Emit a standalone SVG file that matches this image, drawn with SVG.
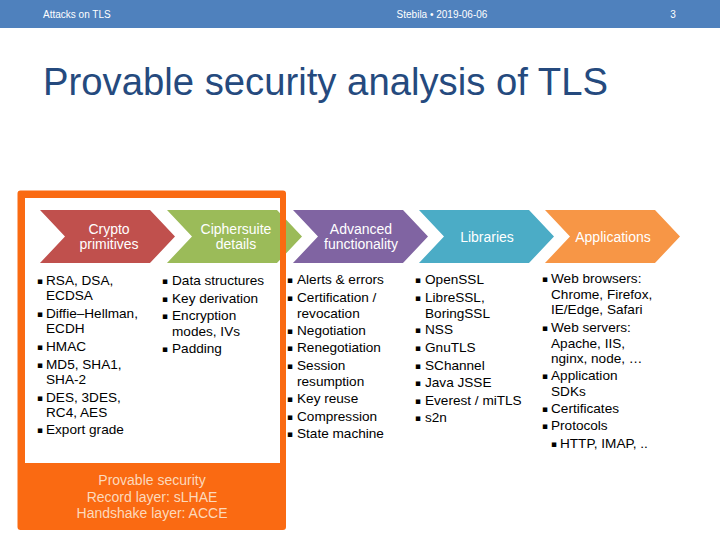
<svg xmlns="http://www.w3.org/2000/svg" width="720" height="540" viewBox="0 0 720 540">
<style>
.hdr{font-family:"Liberation Sans",Arial,sans-serif;font-size:10px;fill:#FFFFFF}
.ttl{font-family:"Liberation Sans",Arial,sans-serif;font-size:38px;fill:#254A7E}
.lab{font-family:"Liberation Sans",Arial,sans-serif;font-size:14px;fill:#FFFFFF;text-anchor:middle}
.li{font-family:"Liberation Sans",Arial,sans-serif;font-size:13.6px;fill:#000000}
.bu{font-family:"DejaVu Sans",sans-serif;font-size:9px;fill:#000000}
.bot{font-family:"Liberation Sans",Arial,sans-serif;font-size:14px;fill:#FCD9BC;text-anchor:middle}
</style>
<defs>
<path id="chev" d="M0,0 L110,0 L135,26.5 L110,53 L0,53 L25,26.5 Z"/>
</defs>
<rect x="0" y="0" width="720" height="540" fill="#FFFFFF"/>
<g id="header">
<rect x="0" y="0" width="720" height="28" fill="#4F81BD"/>
<text class="hdr" x="43" y="18">Attacks on TLS</text>
<text class="hdr" x="442" y="18" text-anchor="middle">Stebila • 2019-06-06</text>
<text class="hdr" x="673" y="18" text-anchor="middle">3</text>
</g>
<text id="title" class="ttl" x="43" y="95" textLength="565" lengthAdjust="spacingAndGlyphs">Provable security analysis of TLS</text>
<g id="connectors"></g>
<g id="crypto">
<use href="#chev" x="40" y="210" fill="#C0504D"/>
<text class="lab" x="109" y="234">Crypto</text>
<text class="lab" x="109" y="249">primitives</text>
<g>
<text class="bu" x="37" y="284">▪</text><text class="li" x="46" y="285">RSA, DSA,</text>
<text class="li" x="46" y="300">ECDSA</text>
<text class="bu" x="37" y="317">▪</text><text class="li" x="46" y="318">Diffie–Hellman,</text>
<text class="li" x="46" y="333">ECDH</text>
<text class="bu" x="37" y="350">▪</text><text class="li" x="46" y="351">HMAC</text>
<text class="bu" x="37" y="368">▪</text><text class="li" x="46" y="369">MD5, SHA1,</text>
<text class="li" x="46" y="384">SHA-2</text>
<text class="bu" x="37" y="401">▪</text><text class="li" x="46" y="402">DES, 3DES,</text>
<text class="li" x="46" y="417">RC4, AES</text>
<text class="bu" x="37" y="433">▪</text><text class="li" x="46" y="434">Export grade</text>
</g>
</g>
<g id="ciphersuite">
<use href="#chev" x="167" y="210" fill="#9BBB59"/>
<text class="lab" x="236" y="234">Ciphersuite</text>
<text class="lab" x="236" y="249">details</text>
<text class="bu" x="162" y="284">▪</text><text class="li" x="172" y="285">Data structures</text>
<text class="bu" x="162" y="302">▪</text><text class="li" x="172" y="303">Key derivation</text>
<text class="bu" x="162" y="319">▪</text><text class="li" x="172" y="320">Encryption</text>
<text class="li" x="172" y="335.5">modes, IVs</text>
<text class="bu" x="162" y="352">▪</text><text class="li" x="172" y="353">Padding</text>
</g>
<g id="advanced">
<use href="#chev" x="293" y="210" fill="#8064A2"/>
<text class="lab" x="361" y="234">Advanced</text>
<text class="lab" x="361" y="249">functionality</text>
<text class="bu" x="287" y="283">▪</text><text class="li" x="297" y="284">Alerts &amp; errors</text>
<text class="bu" x="287" y="301">▪</text><text class="li" x="297" y="302">Certification /</text>
<text class="li" x="297" y="317.5">revocation</text>
<text class="bu" x="287" y="334">▪</text><text class="li" x="297" y="335">Negotiation</text>
<text class="bu" x="287" y="351">▪</text><text class="li" x="297" y="352">Renegotiation</text>
<text class="bu" x="287" y="369">▪</text><text class="li" x="297" y="370">Session</text>
<text class="li" x="297" y="385.5">resumption</text>
<text class="bu" x="287" y="402">▪</text><text class="li" x="297" y="403">Key reuse</text>
<text class="bu" x="287" y="420">▪</text><text class="li" x="297" y="421">Compression</text>
<text class="bu" x="287" y="437">▪</text><text class="li" x="297" y="438">State machine</text>
</g>
<g id="libraries">
<use href="#chev" x="419" y="210" fill="#4BACC6"/>
<text class="lab" x="487" y="242">Libraries</text>
<text class="bu" x="415" y="283">▪</text><text class="li" x="425" y="284">OpenSSL</text>
<text class="bu" x="415" y="301">▪</text><text class="li" x="425" y="302">LibreSSL,</text>
<text class="li" x="425" y="317.5">BoringSSL</text>
<text class="bu" x="415" y="333">▪</text><text class="li" x="425" y="334">NSS</text>
<text class="bu" x="415" y="351">▪</text><text class="li" x="425" y="352">GnuTLS</text>
<text class="bu" x="415" y="369">▪</text><text class="li" x="425" y="370">SChannel</text>
<text class="bu" x="415" y="386">▪</text><text class="li" x="425" y="387">Java JSSE</text>
<text class="bu" x="415" y="404">▪</text><text class="li" x="425" y="405">Everest / miTLS</text>
<text class="bu" x="415" y="421">▪</text><text class="li" x="425" y="422">s2n</text>
</g>
<g id="applications">
<use href="#chev" x="545" y="210" fill="#F79646"/>
<text class="lab" x="613" y="242">Applications</text>
<text class="bu" x="542" y="282">▪</text><text class="li" x="551" y="283">Web browsers:</text>
<text class="li" x="551" y="298.5">Chrome, Firefox,</text>
<text class="li" x="551" y="314">IE/Edge, Safari</text>
<text class="bu" x="542" y="331">▪</text><text class="li" x="551" y="332">Web servers:</text>
<text class="li" x="551" y="347.5">Apache, IIS,</text>
<text class="li" x="551" y="363">nginx, node, …</text>
<text class="bu" x="542" y="379">▪</text><text class="li" x="551" y="380">Application</text>
<text class="li" x="551" y="395.5">SDKs</text>
<text class="bu" x="542" y="412">▪</text><text class="li" x="551" y="413">Certificates</text>
<text class="bu" x="542" y="429">▪</text><text class="li" x="551" y="430">Protocols</text>
<text class="bu" x="551" y="447">▪</text><text class="li" x="560" y="448">HTTP, IMAP, ..</text>
</g>
<g id="provable-security">
<path d="M20.5,190.5 H283 Q286,190.5 286,193.5 V527 Q286,530 283,530 H20.5 Q17.5,530 17.5,527 V193.5 Q17.5,190.5 20.5,190.5 Z M25,198 V463 H280 V198 Z" fill="#FA6A12" fill-rule="evenodd"/>
<text class="bot" x="152" y="485">Provable security</text>
<text class="bot" x="152" y="502">Record layer: sLHAE</text>
<text class="bot" x="152" y="518">Handshake layer: ACCE</text>
</g>
</svg>
